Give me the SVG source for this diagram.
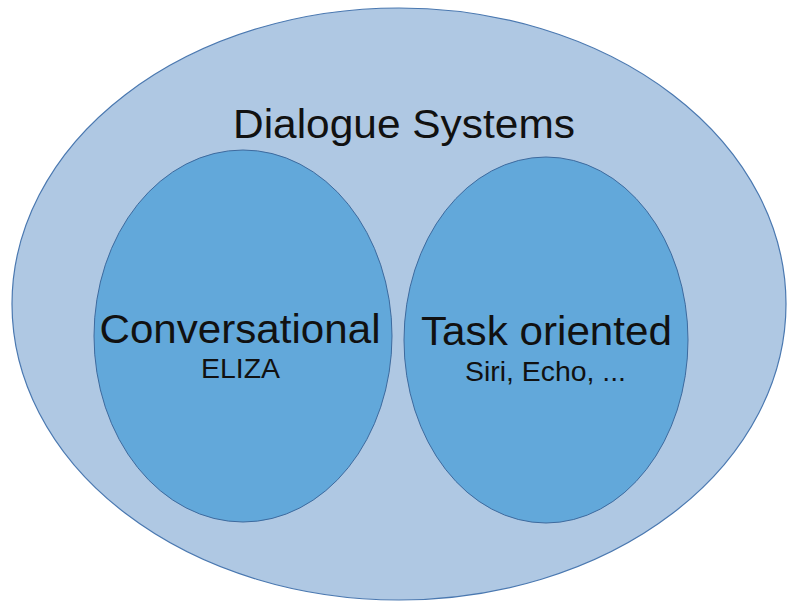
<svg xmlns="http://www.w3.org/2000/svg" width="787" height="603" viewBox="0 0 787 603">
<style>
.outer{fill:#afc8e3;stroke:#4a78b0;stroke-width:1.2}
.inner{fill:#62a8da;stroke:#3d6a9e;stroke-width:1}
text{font-family:"Liberation Sans",Arial,sans-serif;fill:#111;text-anchor:middle}
.big{font-size:41px}
.small{font-size:28px}
</style>
<rect width="787" height="603" fill="#ffffff"/>
<g id="dialogue-systems">
<ellipse class="outer" cx="399" cy="304" rx="387" ry="296"/>
<text class="big" x="404" y="138" textLength="342" lengthAdjust="spacingAndGlyphs">Dialogue Systems</text>
</g>
<g id="conversational">
<ellipse class="inner" cx="243" cy="336" rx="149" ry="186"/>
<text class="big" x="240" y="343" textLength="281" lengthAdjust="spacingAndGlyphs">Conversational</text>
<text class="small" x="240.5" y="378" textLength="79" lengthAdjust="spacingAndGlyphs">ELIZA</text>
</g>
<g id="task-oriented">
<ellipse class="inner" cx="546" cy="340" rx="142" ry="183"/>
<text class="big" x="546.5" y="345" textLength="251" lengthAdjust="spacingAndGlyphs">Task oriented</text>
<text class="small" x="545.5" y="381" textLength="161" lengthAdjust="spacingAndGlyphs">Siri, Echo, ...</text>
</g>
<g id="connectors"></g>
</svg>
